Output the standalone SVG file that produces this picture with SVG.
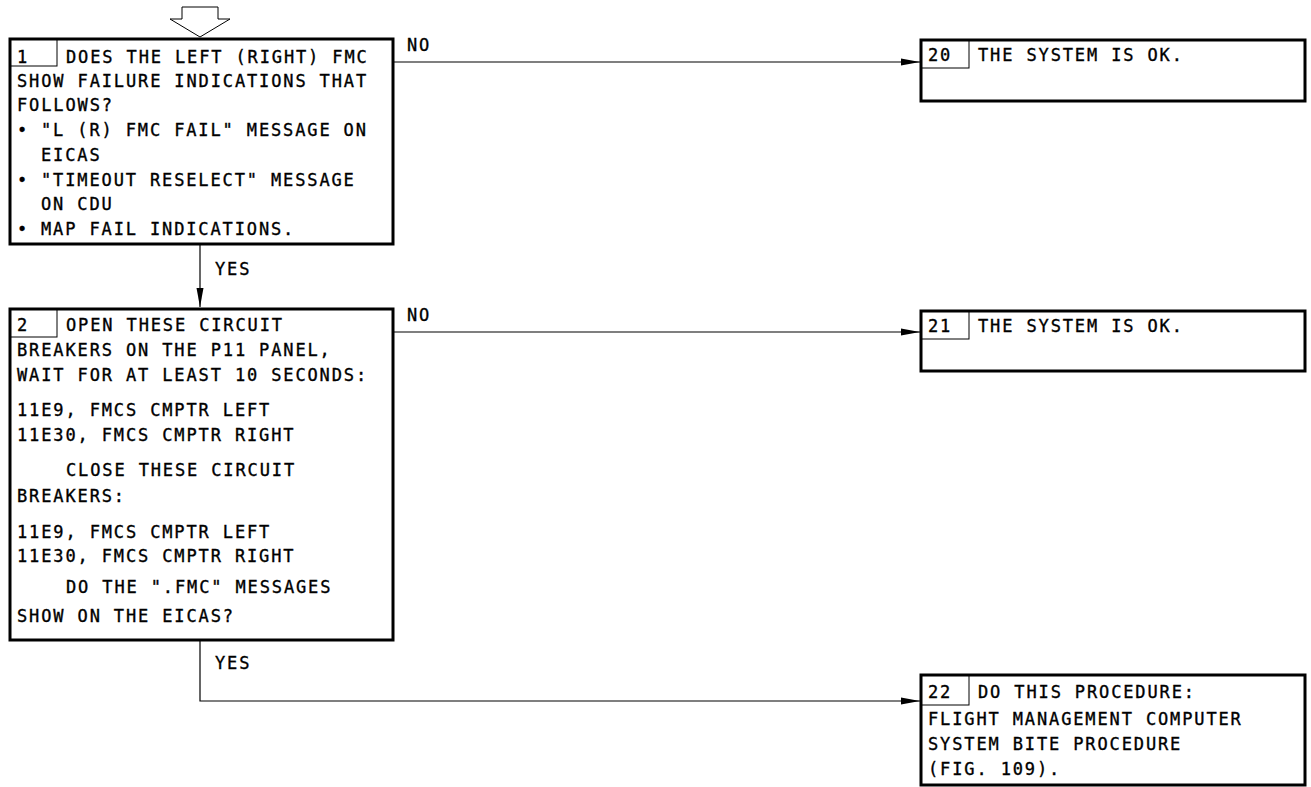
<svg xmlns="http://www.w3.org/2000/svg" width="1311" height="787" viewBox="0 0 1311 787">
<style>
.box{fill:#fff;stroke:#000;stroke-width:3}
.cell{fill:none;stroke:#000;stroke-width:1}
.ln{fill:none;stroke:#000;stroke-width:1.2}
text{font-family:"DejaVu Sans Mono","Liberation Mono",monospace;font-size:17px;letter-spacing:1.87px;fill:#000;stroke:#000;stroke-width:0.35px}
</style>
<defs>
<marker id="ah" markerWidth="20" markerHeight="8" refX="19" refY="4" orient="auto" markerUnits="userSpaceOnUse">
<path d="M0,0.5 L19,4 L0,7.5 Z" fill="#000"/>
</marker>
</defs>
<rect width="1311" height="787" fill="#fff"/>
<g id="connectors">
<polygon points="182,7 218,7 218,19 230,19 200,37 170,19 182,19" fill="#fff" stroke="#000" stroke-width="1"/>
<line class="ln" x1="393" y1="62" x2="920" y2="62" marker-end="url(#ah)"/>
<text x="407" y="51">NO</text>
<line class="ln" x1="200" y1="245" x2="200" y2="307" marker-end="url(#ah)"/>
<text x="215" y="275">YES</text>
<line class="ln" x1="393" y1="332" x2="920" y2="332" marker-end="url(#ah)"/>
<text x="407" y="321">NO</text>
<polyline class="ln" points="200,641 200,701 920,701" marker-end="url(#ah)"/>
<text x="215" y="669">YES</text>
</g>
<g id="node1">
<rect class="box" x="10" y="39" width="383" height="205"/>
<rect class="cell" x="10" y="39" width="47" height="27"/>
<text x="17" y="63">1</text>
<text x="66" y="63">DOES THE LEFT (RIGHT) FMC</text>
<text x="17" y="87">SHOW FAILURE INDICATIONS THAT</text>
<text x="17" y="111">FOLLOWS?</text>
<text x="17" y="136">•</text>
<text x="41" y="136">"L (R) FMC FAIL" MESSAGE ON</text>
<text x="41" y="161">EICAS</text>
<text x="17" y="186">•</text>
<text x="41" y="186">"TIMEOUT RESELECT" MESSAGE</text>
<text x="41" y="210">ON CDU</text>
<text x="17" y="235">•</text>
<text x="41" y="235">MAP FAIL INDICATIONS.</text>
</g>
<g id="node2">
<rect class="box" x="10" y="309" width="383" height="331"/>
<rect class="cell" x="10" y="309" width="47" height="28"/>
<text x="17" y="331">2</text>
<text x="66" y="331">OPEN THESE CIRCUIT</text>
<text x="17" y="356">BREAKERS ON THE P11 PANEL,</text>
<text x="17" y="381">WAIT FOR AT LEAST 10 SECONDS:</text>
<text x="17" y="416">11E9, FMCS CMPTR LEFT</text>
<text x="17" y="441">11E30, FMCS CMPTR RIGHT</text>
<text x="66" y="476">CLOSE THESE CIRCUIT</text>
<text x="17" y="502">BREAKERS:</text>
<text x="17" y="538">11E9, FMCS CMPTR LEFT</text>
<text x="17" y="562">11E30, FMCS CMPTR RIGHT</text>
<text x="66" y="593">DO THE ".FMC" MESSAGES</text>
<text x="17" y="622">SHOW ON THE EICAS?</text>
</g>
<g id="node20">
<rect class="box" x="921" y="40" width="384" height="61"/>
<rect class="cell" x="921" y="40" width="48" height="28"/>
<text x="928" y="61">20</text>
<text x="978" y="61">THE SYSTEM IS OK.</text>
</g>
<g id="node21">
<rect class="box" x="921" y="311" width="384" height="60"/>
<rect class="cell" x="921" y="311" width="48" height="28"/>
<text x="928" y="332">21</text>
<text x="978" y="332">THE SYSTEM IS OK.</text>
</g>
<g id="node22">
<rect class="box" x="921" y="675" width="384" height="110"/>
<rect class="cell" x="921" y="675" width="48" height="30"/>
<text x="928" y="698">22</text>
<text x="978" y="698">DO THIS PROCEDURE:</text>
<text x="928" y="725">FLIGHT MANAGEMENT COMPUTER</text>
<text x="928" y="750">SYSTEM BITE PROCEDURE</text>
<text x="928" y="775">(FIG. 109).</text>
</g>
</svg>
